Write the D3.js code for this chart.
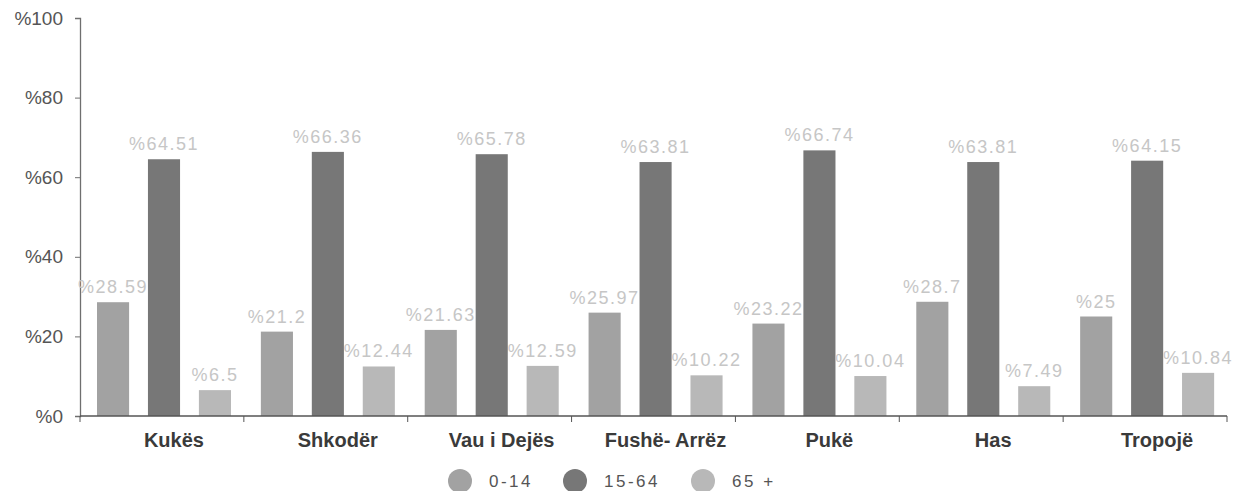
<!DOCTYPE html>
<html><head><meta charset="utf-8">
<script src="https://cdn.jsdelivr.net/npm/d3@7"></script>
<style>body{margin:0;background:#fff;}svg{display:block;font-family:Arial,"Liberation Sans",sans-serif;}</style>
</head><body><svg id="c" width="1235" height="491"></svg>
<script>
const categories = ["Kukës","Shkodër","Vau i Dejës","Fushë- Arrëz","Pukë","Has","Tropojë"];
const seriesNames = ["0-14","15-64","65 +"];
const s0_14 = [28.59,21.2,21.63,25.97,23.22,28.7,25];
const s15_64 = [64.51,66.36,65.78,63.81,66.74,63.81,64.15];
const s65 = [6.5,12.44,12.59,10.22,10.04,7.49,10.84];
const yTicks = [0,20,40,60,80,100];
const colors = ["#a2a2a2","#777777","#b8b8b8"];
const series = [s0_14, s15_64, s65];

const svg = d3.select("#c");
const mLeft = 80, mRight = 1227, mTop = 18, mBottom = 416;
const x0 = d3.scaleBand().domain(categories).range([mLeft,mRight]).padding(0);
const x1 = d3.scaleBand().domain(seriesNames).range([17,151]).paddingInner(0.37).paddingOuter(0);
const y = d3.scaleLinear().domain([0,100]).range([mBottom,mTop]);

// y axis
const ya = svg.append("g").attr("transform",`translate(${mLeft},0)`)
  .call(d3.axisLeft(y).tickValues(yTicks).tickSize(5).tickFormat(d=>"%"+d));
ya.select(".domain").attr("stroke","#6f6f6f").attr("stroke-width",1.3);
ya.selectAll(".tick line").attr("stroke","#6f6f6f");
ya.selectAll(".tick text").attr("fill","#555").attr("font-size",19).attr("x",-17);

// bars
const g = svg.append("g");
categories.forEach((c,i)=>{
  series.forEach((s,j)=>{
    const bx = x0(c)+x1(seriesNames[j]);
    g.append("rect").attr("x",bx).attr("y",y(s[i])).attr("width",x1.bandwidth())
      .attr("height",y(0)-y(s[i])).attr("fill",colors[j]);
    g.append("text").attr("x",bx+x1.bandwidth()/2).attr("y",y(s[i])-9)
      .attr("text-anchor","middle").attr("font-size",18).attr("letter-spacing",1.5).attr("fill","#c6c6c6")
      .text("%"+s[i]);
  });
});

// x axis
const xa = svg.append("g").attr("transform",`translate(0,${mBottom})`);
xa.append("line").attr("x1",mLeft).attr("x2",mRight).attr("stroke","#555").attr("stroke-width",1.6);
const bounds = categories.map(c=>x0(c)).concat([mRight]);
xa.selectAll("line.t").data(bounds).join("line").attr("class","t")
  .attr("x1",d=>d).attr("x2",d=>d).attr("y1",0).attr("y2",6).attr("stroke","#555");
xa.selectAll("text").data(categories).join("text")
  .attr("x",d=>x0(d)+x0.bandwidth()/2+12).attr("y",31)
  .attr("text-anchor","middle").attr("font-size",20).attr("font-weight","bold").attr("fill","#3a3a3a")
  .text(d=>d);

// legend
const legX = [460,575,703];
const lg = svg.append("g");
seriesNames.forEach((n,j)=>{
  lg.append("circle").attr("cx",legX[j]).attr("cy",481).attr("r",12).attr("fill",colors[j]);
  lg.append("text").attr("x",legX[j]+29).attr("y",487).attr("font-size",17).attr("letter-spacing",2.5).attr("fill","#555").text(n);
});
</script></body></html>
